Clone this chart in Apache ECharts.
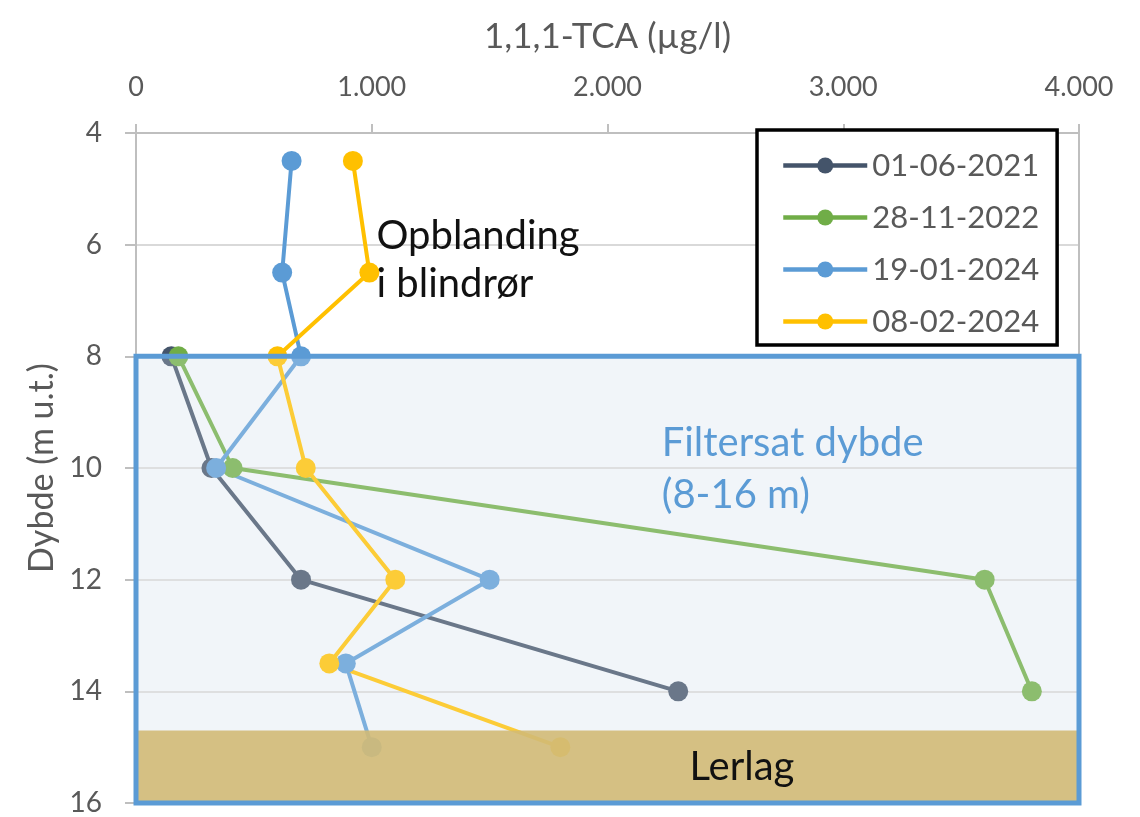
<!DOCTYPE html>
<html>
<head>
<meta charset="utf-8">
<script src="https://cdn.jsdelivr.net/npm/echarts@6/dist/echarts.min.js"></script>
<style>
html,body{margin:0;padding:0;background:#fff;}
#chart{width:1140px;height:817px;}
</style>
</head>
<body>
<div id="chart"></div>
<script>
// ---- data ----
const seriesNames = ['01-06-2021', '28-11-2022', '19-01-2024', '08-02-2024'];
const depths2021 = [8, 10, 12, 14];
const tca2021 = [150, 320, 700, 2300];
const depths2022 = [8, 10, 12, 14];
const tca2022 = [180, 410, 3600, 3800];
const depths2024a = [4.5, 6.5, 8, 10, 12, 13.5, 15];
const tca2024a = [660, 620, 700, 340, 1500, 890, 1000];
const depths2024b = [4.5, 6.5, 8, 10, 12, 13.5, 15];
const tca2024b = [920, 990, 600, 720, 1100, 820, 1800];
const xTicks = [0, 1000, 2000, 3000, 4000];
const yTicks = [4, 6, 8, 10, 12, 14, 16];
const filterZone = [8, 16];
const clayZone = [14.7, 16];

const colors = ['#44546A', '#70AD47', '#5B9BD5', '#FFC000'];
const FONT = 'Lato, "Open Sans", sans-serif';

function zip(xs, ys) { return xs.map((x, i) => [x, ys[i]]); }
const seriesData = [
  zip(tca2021, depths2021),
  zip(tca2022, depths2022),
  zip(tca2024a, depths2024a),
  zip(tca2024b, depths2024b)
];

const chart = echarts.init(document.getElementById('chart'), null, {renderer: 'canvas'});

const lineSeries = seriesNames.map((n, i) => ({
  name: n,
  type: 'line',
  data: seriesData[i],
  z: 3,
  symbol: 'circle',
  symbolSize: 20,
  showAllSymbol: true,
  lineStyle: {color: colors[i], width: 4},
  itemStyle: {color: colors[i]},
  emphasis: {disabled: true},
  animation: false
}));

const xMin = xTicks[0], xMax = xTicks[xTicks.length - 1];

const option = {
  animation: false,
  grid: {left: 136, right: 61, top: 133, bottom: 11, containLabel: false},
  xAxis: {
    type: 'value',
    position: 'top',
    z: 2,
    min: xMin, max: xMax, interval: 1000,
    name: '1,1,1-TCA (µg/l)',
    nameLocation: 'middle',
    nameGap: 79,
    nameTextStyle: {fontFamily: FONT, fontSize: 35, color: '#595959'},
    axisLine: {show: true, lineStyle: {color: '#BFBFBF', width: 2}},
    axisTick: {show: true, length: 9, lineStyle: {color: '#BFBFBF', width: 2}},
    axisLabel: {
      margin: 32, fontFamily: FONT, fontSize: 27, color: '#595959',
      formatter: v => v === 0 ? '0' : (v / 1000) + '.000'
    },
    splitLine: {show: true, lineStyle: {color: ['rgba(0,0,0,0)', 'rgba(0,0,0,0)', 'rgba(0,0,0,0)', 'rgba(0,0,0,0)', '#BFBFBF'], width: 2}}
  },
  yAxis: {
    type: 'value',
    inverse: true,
    z: 2,
    min: yTicks[0], max: yTicks[yTicks.length - 1], interval: 2,
    name: 'Dybde (m u.t.)',
    nameLocation: 'middle',
    nameGap: 77,
    nameRotate: 90,
    nameTextStyle: {fontFamily: FONT, fontSize: 34, color: '#595959'},
    axisLine: {show: true, lineStyle: {color: '#BFBFBF', width: 2}},
    axisTick: {show: true, length: 11, lineStyle: {color: '#BFBFBF', width: 2}},
    axisLabel: {margin: 34, fontFamily: FONT, fontSize: 28, color: '#595959'},
    splitLine: {show: true, lineStyle: {color: '#D9D9D9', width: 2}}
  },
  legend: {
    data: seriesNames,
    orient: 'vertical',
    left: 757, top: 130,
    padding: [20, 18, 8, 24],
    itemGap: 21,
    itemWidth: 84,
    itemHeight: 20,
    backgroundColor: '#ffffff',
    borderColor: '#000000',
    borderWidth: 3.5,
    borderRadius: 0,
    lineStyle: {width: 4.5},
    textStyle: {fontFamily: FONT, fontSize: 31, color: '#595959', padding: [0, 0, 0, 0]},
    selectedMode: false,
    z: 20
  },
  series: [
    ...lineSeries,
    {
      name: 'filterUnder', type: 'line', data: [], z: 1, silent: true,
      markArea: {
        silent: true, z: 1,
        itemStyle: {color: '#F1F5F9', borderWidth: 0},
        data: [[{coord: [xMin, filterZone[0]]}, {coord: [xMax, filterZone[1]]}]]
      }
    },
    {
      name: 'filterFill', type: 'line', data: [], z: 4, silent: true,
      markArea: {
        silent: true, z: 4,
        itemStyle: {color: 'rgba(241,245,249,0.22)', borderWidth: 0},
        data: [[{coord: [xMin, filterZone[0]]}, {coord: [xMax, filterZone[1]]}]]
      }
    },
    {
      name: 'clay', type: 'line', data: [], z: 5, silent: true,
      markArea: {
        silent: true, z: 5,
        itemStyle: {color: 'rgba(209,186,117,0.9)', borderWidth: 0},
        data: [[{coord: [xMin, clayZone[0]]}, {coord: [xMax, clayZone[1]]}]]
      }
    },
    {
      name: 'filterBorder', type: 'line', data: [], z: 6, silent: true,
      markArea: {
        silent: true, z: 6,
        itemStyle: {color: 'rgba(0,0,0,0)', borderColor: '#5B9BD5', borderWidth: 5},
        data: [[{coord: [xMin, filterZone[0]]}, {coord: [xMax, filterZone[1]]}]]
      }
    }
  ]
};
chart.setOption(option);

// annotations placed at data coordinates
function px(x, y) { return chart.convertToPixel({gridIndex: 0}, [x, y]); }
const pOpb = px(1020, 5.42);
const pFil = px(2230, 9.08);
const pLer = px(2570, 15.35);
chart.setOption({
  graphic: [
    {type: 'text', left: pOpb[0], top: pOpb[1], z: 30,
      style: {text: 'Opblanding\ni blindrør', font: '40px ' + FONT, fill: '#111111', lineHeight: 48}},
    {type: 'text', left: pFil[0], top: pFil[1], z: 30,
      style: {text: 'Filtersat dybde\n(8-16 m)', font: '40px ' + FONT, fill: '#5B9BD5', lineHeight: 52}},
    {type: 'text', x: pLer[0], y: pLer[1], z: 30,
      style: {text: 'Lerlag', font: '40px ' + FONT, fill: '#111111', align: 'center', verticalAlign: 'middle'}}
  ]
});
</script>
</body>
</html>
